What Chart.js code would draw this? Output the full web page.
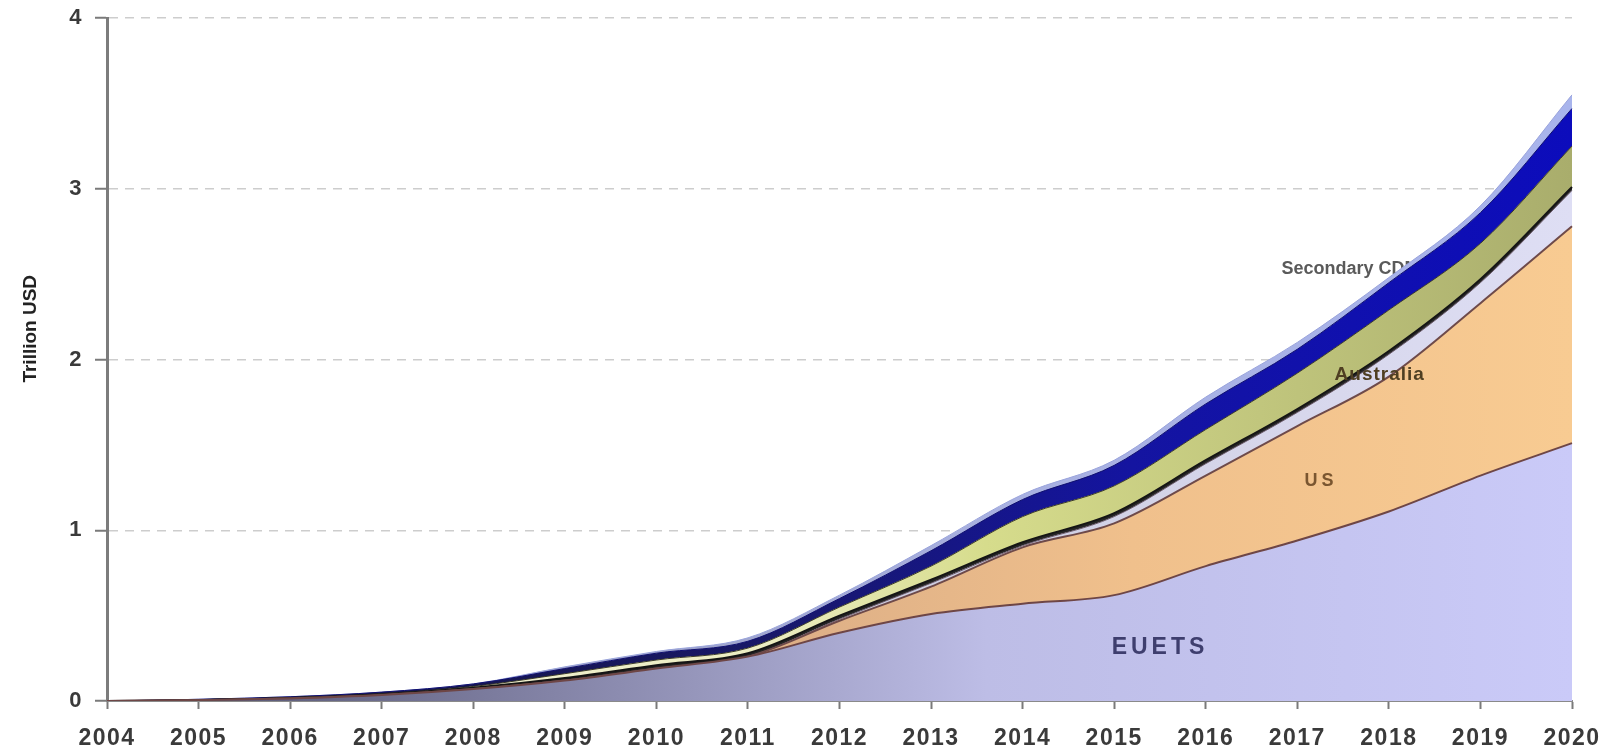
<!DOCTYPE html>
<html>
<head>
<meta charset="utf-8">
<title>Carbon market value</title>
<script src="https://cdn.jsdelivr.net/npm/chart.js@4.4.1/dist/chart.umd.min.js"></script>
<style>
	html, body { margin: 0; padding: 0; background: #ffffff; }
	#wrap { position: relative; width: 1606px; height: 752px; }
</style>
</head>
<body>
<div id="wrap"><canvas id="marketChart"></canvas></div>
<script>
( function() { 'use strict';

	// years on the x axis
	const years = [ '2004', '2005', '2006', '2007', '2008', '2009', '2010', '2011', '2012',
		'2013', '2014', '2015', '2016', '2017', '2018', '2019', '2020' ];

	// layer values, trillion USD (stacked from the bottom up)
	const euets        = [ 0, 0.005, 0.015, 0.035, 0.07, 0.12, 0.19, 0.26, 0.40, 0.51, 0.57, 0.62, 0.79, 0.94, 1.11, 1.32, 1.51 ];
	const us           = [ 0, 0, 0, 0, 0, 0, 0, 0, 0.07, 0.16, 0.33, 0.42, 0.53, 0.67, 0.79, 1.01, 1.27 ];
	const australia    = [ 0, 0, 0, 0, 0, 0, 0, 0, 0.01, 0.02, 0.01, 0.04, 0.07, 0.08, 0.13, 0.12, 0.21 ];
	const other        = [ 0, 0.001, 0.002, 0.004, 0.008, 0.015, 0.02, 0.02, 0.02, 0.02, 0.02, 0.02, 0.02, 0.02, 0.02, 0.02, 0.02 ];
	const primaryCdm   = [ 0, 0.001, 0.003, 0.003, 0.007, 0.025, 0.03, 0.03, 0.05, 0.08, 0.15, 0.16, 0.18, 0.21, 0.24, 0.21, 0.24 ];
	const secondaryCdm = [ 0, 0.003, 0.005, 0.01, 0.015, 0.03, 0.04, 0.04, 0.05, 0.09, 0.10, 0.12, 0.15, 0.14, 0.16, 0.18, 0.22 ];
	const ji           = [ 0, 0, 0, 0, 0, 0.01, 0.01, 0.02, 0.02, 0.03, 0.03, 0.03, 0.04, 0.04, 0.03, 0.04, 0.08 ];

	// y axis ticks
	const yTicks = [ 0, 1, 2, 3, 4 ];

	// names written in the areas: [ text, x index, value, colour, font, spacing, drawn under the layers ]
	const areaLabels = [
		[ 'EUETS', 11.5, 0.31, '#3e3e6e', 'bold 23px', '4px', false ],
		[ 'US', 13.26, 1.29, '#7a5630', 'bold 18px', '4px', false ],
		[ 'Australia', 13.9, 1.91, '#4f3f22', 'bold 19px', '1px', false ],
		[ 'Secondary CDM', 13.58, 2.53, '#5a5a5a', 'bold 18px', '0px', true ]
	];

	const FONT = '"Liberation Sans", Arial, sans-serif';

	let CarbonChart = {

		/**
		 * Initialize chart on load
		 */
		init: function() {
			this.createChart();
		},

		/**
		 * Horizontal gradient fill, dark on the left and coloured on the right
		 */
		gradient: function( stops ) {
			return function( context ) {
				const chart = context.chart;
				const area = chart.chartArea;
				if( ! area ) {
					return stops[ stops.length - 1 ][ 1 ];
				}
				let g = chart.ctx.createLinearGradient( area.left, 0, area.right, 0 );
				stops.forEach( function( s ) { g.addColorStop( s[0], s[1] ); } );
				return g;
			};
		},

		/**
		 * Helper to build one stacked area layer
		 */
		layer: function( label, data, fill, stops, border, width ) {
			return {
				label: label,
				data: data,
				fill: fill,
				backgroundColor: this.gradient( stops ),
				borderColor: border,
				borderWidth: width,
				pointRadius: 0,
				cubicInterpolationMode: 'monotone'
			};
		},

		/**
		 * Write the area names, either under or over the layers
		 */
		writeLabels: function( chart, under ) {
			const ctx = chart.ctx;
			const x = chart.scales.x;
			const y = chart.scales.y;
			ctx.save();
			ctx.textAlign = 'center';
			ctx.textBaseline = 'middle';
			areaLabels.forEach( function( l ) {
				if( l[6] !== under ) {
					return;
				}
				ctx.font = l[4] + ' ' + FONT;
				ctx.letterSpacing = l[5];
				ctx.fillStyle = l[3];
				ctx.fillText( l[0], x.getPixelForValue( l[1] ), y.getPixelForValue( l[2] ) );
			} );
			ctx.restore();
		},

		/**
		 * Plugin for the labels and the rotated axis title
		 */
		labelPlugin: function() {
			const self = this;
			return {
				id: 'areaLabels',
				beforeDraw: function( chart ) {
					chart.ctx.letterSpacing = '1.5px';
				},
				beforeDatasetsDraw: function( chart ) {
					self.writeLabels( chart, true );
				},
				afterDatasetsDraw: function( chart ) {
					self.writeLabels( chart, false );
				},
				afterDraw: function( chart ) {
					const ctx = chart.ctx;
					const y = chart.scales.y;
					ctx.save();
					ctx.letterSpacing = '0px';
					ctx.translate( 31, y.getPixelForValue( 2.18 ) );
					ctx.rotate( -Math.PI / 2 );
					ctx.font = 'bold 19px ' + FONT;
					ctx.fillStyle = '#222222';
					ctx.textAlign = 'center';
					ctx.textBaseline = 'middle';
					ctx.fillText( 'Trillion USD', 0, 0 );
					ctx.restore();
				}
			};
		},

		/**
		 * Create the stacked area chart
		 */
		createChart: function() {

			const datasets = [
				this.layer( 'EUETS', euets, 'origin',
					[ [0, '#4a4a66'], [0.35, '#8c8cb0'], [0.6, '#bdbde6'], [1, '#cacaf8'] ], '#6e4646', 2 ),
				this.layer( 'US', us, '-1',
					[ [0, '#9a8070'], [0.45, '#dcae86'], [0.7, '#f0c08c'], [1, '#f8cb92'] ], '#6e4a4a', 2 ),
				this.layer( 'Australia', australia, '-1',
					[ [0, '#b8b8c8'], [1, '#dedef4'] ], '#6a5a6a', 1 ),
				this.layer( 'Other', other, '-1',
					[ [0, '#202020'], [1, '#2a2a2a'] ], '#151515', 2 ),
				this.layer( 'Primary CDM', primaryCdm, '-1',
					[ [0, '#f4f2dc'], [0.45, '#ecedc2'], [0.6, '#d6dc8c'], [1, '#a9ad6c'] ], '#3a3a2a', 1 ),
				this.layer( 'Secondary CDM', secondaryCdm, '-1',
					[ [0, '#141430'], [0.45, '#181868'], [0.7, '#1414a0'], [1, '#0c0cbc'] ], '#101070', 1 ),
				this.layer( 'JI', ji, '-1',
					[ [0, '#8a8aa0'], [0.6, '#a8b0e0'], [1, '#a8b4ec'] ], '#9aa4dc', 1 )
			];

			new Chart( document.getElementById( 'marketChart' ), {
				type: 'line',
				data: {
					labels: years,
					datasets: datasets
				},
				plugins: [ this.labelPlugin() ],
				options: {
					responsive: true,
					maintainAspectRatio: false,
					animation: false,
					layout: { padding: { left: 0, top: 18, right: 34, bottom: 0 } },
					plugins: {
						legend: { display: false },
						tooltip: { enabled: false }
					},
					scales: {
						x: {
							type: 'category',
							offset: false,
							afterFit: function( scale ) {
								scale.height = 51;
								scale.paddingLeft = 0;
								scale.paddingRight = 0;
							},
							grid: {
								drawOnChartArea: false,
								tickLength: 8,
								tickColor: '#7a7a7a',
								tickWidth: 2
							},
							border: { color: '#8a8a8a', width: 2 },
							ticks: {
								autoSkip: false,
								maxRotation: 0,
								padding: 16,
								color: '#3a3a3a',
								font: { family: FONT, size: 23, weight: 'bold' }
							}
						},
						y: {
							stacked: true,
							min: 0,
							max: 4,
							afterFit: function( scale ) {
								scale.width = 107;
								scale.paddingTop = 0;
								scale.paddingBottom = 0;
							},
							afterBuildTicks: function( scale ) {
								scale.ticks = yTicks.map( function( v ) { return { value: v }; } );
							},
							grid: {
								color: function( c ) { return c.tick && c.tick.value === 0 ? 'rgba(0,0,0,0)' : '#cdcdcd'; },
								lineWidth: 1.5,
								tickLength: 12,
								tickColor: '#7a7a7a',
								tickWidth: 2
							},
							border: { color: '#7c7c7c', width: 3, dash: [ 9, 7 ] },
							ticks: {
								padding: 12,
								color: '#3a3a3a',
								font: { family: FONT, size: 22, weight: 'bold' }
							}
						}
					}
				}
			} );
		}
	};

	document.addEventListener( 'DOMContentLoaded', function() {
		CarbonChart.init();
	} );
} )();
</script>
</body>
</html>
